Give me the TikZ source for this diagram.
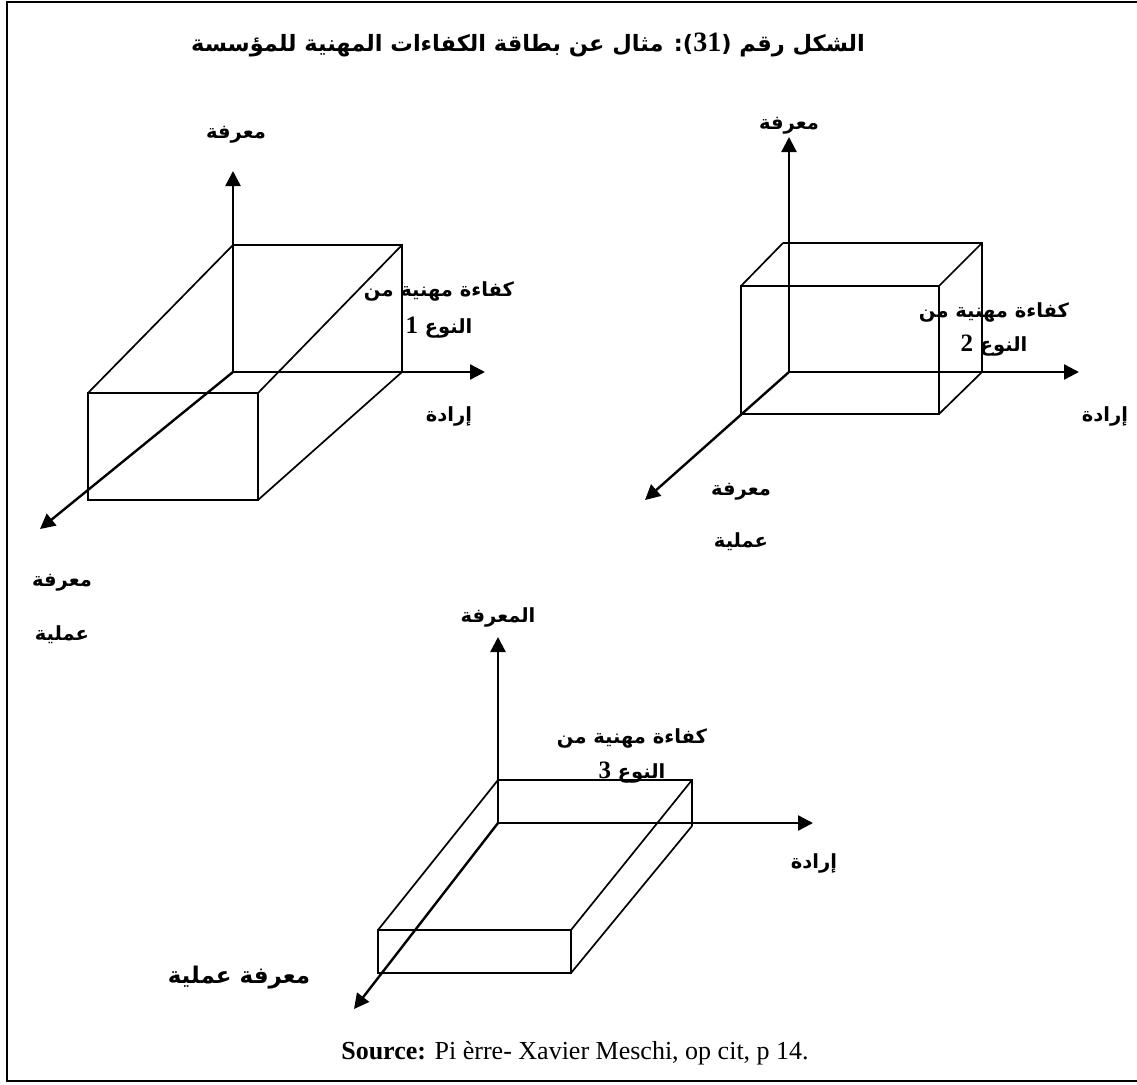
\documentclass[tikz,border=0pt]{standalone}
\usepackage{fontspec}
\usetikzlibrary{arrows.meta}
\setmainfont{Liberation Serif}
\newfontfamily\arabicfont[Script=Arabic]{DejaVu Sans}
\TeXXeTstate=1

\begin{document}
\begin{tikzpicture}[x=1pt,y=-1pt,
        axis/.style={line width=2.4pt,-{Triangle[length=15pt,width=15pt]}},
        edge/.style={line width=1.7pt},
        lbl/.style={font=\arabicfont\bfseries\fontsize{19.5}{22}\selectfont,inner sep=0pt},
        ttl/.style={font=\arabicfont\bfseries\fontsize{22.5}{26}\selectfont,inner sep=0pt}]
    \useasboundingbox (0,0) rectangle (1137,1084);

    % Frame
    \coordinate (f1) at (1137,2);
    \coordinate (f2) at (7,2);
    \coordinate (f3) at (7,1081);
    \coordinate (f4) at (1137,1081);
    \draw[line width=2.4pt] (f1) -- (f2) -- (f3) -- (f4);

    % Title and source
    \node[ttl] (title) at (528,45) {\beginR الشكل رقم ({\rmfamily\bfseries\fontsize{28}{28}\selectfont\beginL 31\endL}): مثال عن بطاقة الكفاءات المهنية للمؤسسة\endR};
    \node[font=\fontsize{26}{28}\selectfont,inner sep=0pt] (source) at (575,1053) {\textbf{Source:} Pi èrre- Xavier Meschi, op cit, p 14.};

    % First box
    \coordinate (a0) at (233,372);
    \coordinate (ay) at (233,171);
    \coordinate (ax) at (485,372);
    \coordinate (az) at (40,529);
    \coordinate (a1) at (233,245);
    \coordinate (a2) at (402,245);
    \coordinate (a3) at (402,372);
    \coordinate (a4) at (88,393);
    \coordinate (a5) at (258,393);
    \coordinate (a6) at (258,500);
    \coordinate (a7) at (88,500);
    \draw[edge] (a1) -- (a2) -- (a3);
    \draw[edge] (a4) -- (a5) -- (a6) -- (a7) -- cycle;
    \draw[edge] (a1) -- (a4);
    \draw[edge] (a2) -- (a5);
    \draw[edge] (a3) -- (a6);
    \draw[axis] (a0) -- (ay);
    \draw[axis] (a0) -- (ax);
    \draw[axis] (a0) -- (az);
    \node[lbl] (ak) at (236,135) {\beginR معرفة\endR};
    \node[lbl] (at1) at (439,291) {\beginR كفاءة مهنية من\endR};
    \node[lbl] (at2) at (439,328) {\beginR النوع {\rmfamily\bfseries\fontsize{25}{28}\selectfont 1}\endR};
    \node[lbl] (aw) at (449,416) {\beginR إرادة\endR};
    \node[lbl] (as1) at (62,583) {\beginR معرفة\endR};
    \node[lbl] (as2) at (62,635) {\beginR عملية\endR};

    % Second box
    \coordinate (b0) at (789,372);
    \coordinate (by) at (789,137);
    \coordinate (bx) at (1079,372);
    \coordinate (bz) at (645,500);
    \coordinate (b1) at (783,243);
    \coordinate (b2) at (982,243);
    \coordinate (b3) at (982,372);
    \coordinate (b4) at (741,286);
    \coordinate (b5) at (939,286);
    \coordinate (b6) at (939,414);
    \coordinate (b7) at (741,414);
    \draw[edge] (b1) -- (b2) -- (b3);
    \draw[edge] (b4) -- (b5) -- (b6) -- (b7) -- cycle;
    \draw[edge] (b1) -- (b4);
    \draw[edge] (b2) -- (b5);
    \draw[edge] (b3) -- (b6);
    \draw[axis] (b0) -- (by);
    \draw[axis] (b0) -- (bx);
    \draw[axis] (b0) -- (bz);
    \node[lbl] (bk) at (789,126) {\beginR معرفة\endR};
    \node[lbl] (bt1) at (994,312) {\beginR كفاءة مهنية من\endR};
    \node[lbl] (bt2) at (994,346) {\beginR النوع {\rmfamily\bfseries\fontsize{25}{28}\selectfont 2}\endR};
    \node[lbl] (bw) at (1105,416) {\beginR إرادة\endR};
    \node[lbl] (bs1) at (741,492) {\beginR معرفة\endR};
    \node[lbl] (bs2) at (741,542) {\beginR عملية\endR};

    % Third box
    \coordinate (c0) at (498,823);
    \coordinate (cy) at (498,637);
    \coordinate (cx) at (813,823);
    \coordinate (cz) at (354,1009);
    \coordinate (c1) at (498,780);
    \coordinate (c2) at (692,780);
    \coordinate (c3) at (692,826);
    \coordinate (c4) at (378,930);
    \coordinate (c5) at (571,930);
    \coordinate (c6) at (571,973);
    \coordinate (c7) at (378,973);
    \draw[edge] (c1) -- (c2) -- (c3);
    \draw[edge] (c4) -- (c5) -- (c6) -- (c7) -- cycle;
    \draw[edge] (c1) -- (c4);
    \draw[edge] (c2) -- (c5);
    \draw[edge] (c3) -- (c6);
    \draw[axis] (c0) -- (cy);
    \draw[axis] (c0) -- (cx);
    \draw[axis] (c0) -- (cz);
    \node[lbl] (ck) at (498,617) {\beginR المعرفة\endR};
    \node[lbl] (ct1) at (632,738) {\beginR كفاءة مهنية من\endR};
    \node[lbl] (ct2) at (632,773) {\beginR النوع {\rmfamily\bfseries\fontsize{25}{28}\selectfont 3}\endR};
    \node[lbl] (cw) at (814,863) {\beginR إرادة\endR};
    \node[lbl,font=\arabicfont\bfseries\fontsize{23}{26}\selectfont] (cs) at (239,978) {\beginR معرفة عملية\endR};

\end{tikzpicture}
\end{document}
